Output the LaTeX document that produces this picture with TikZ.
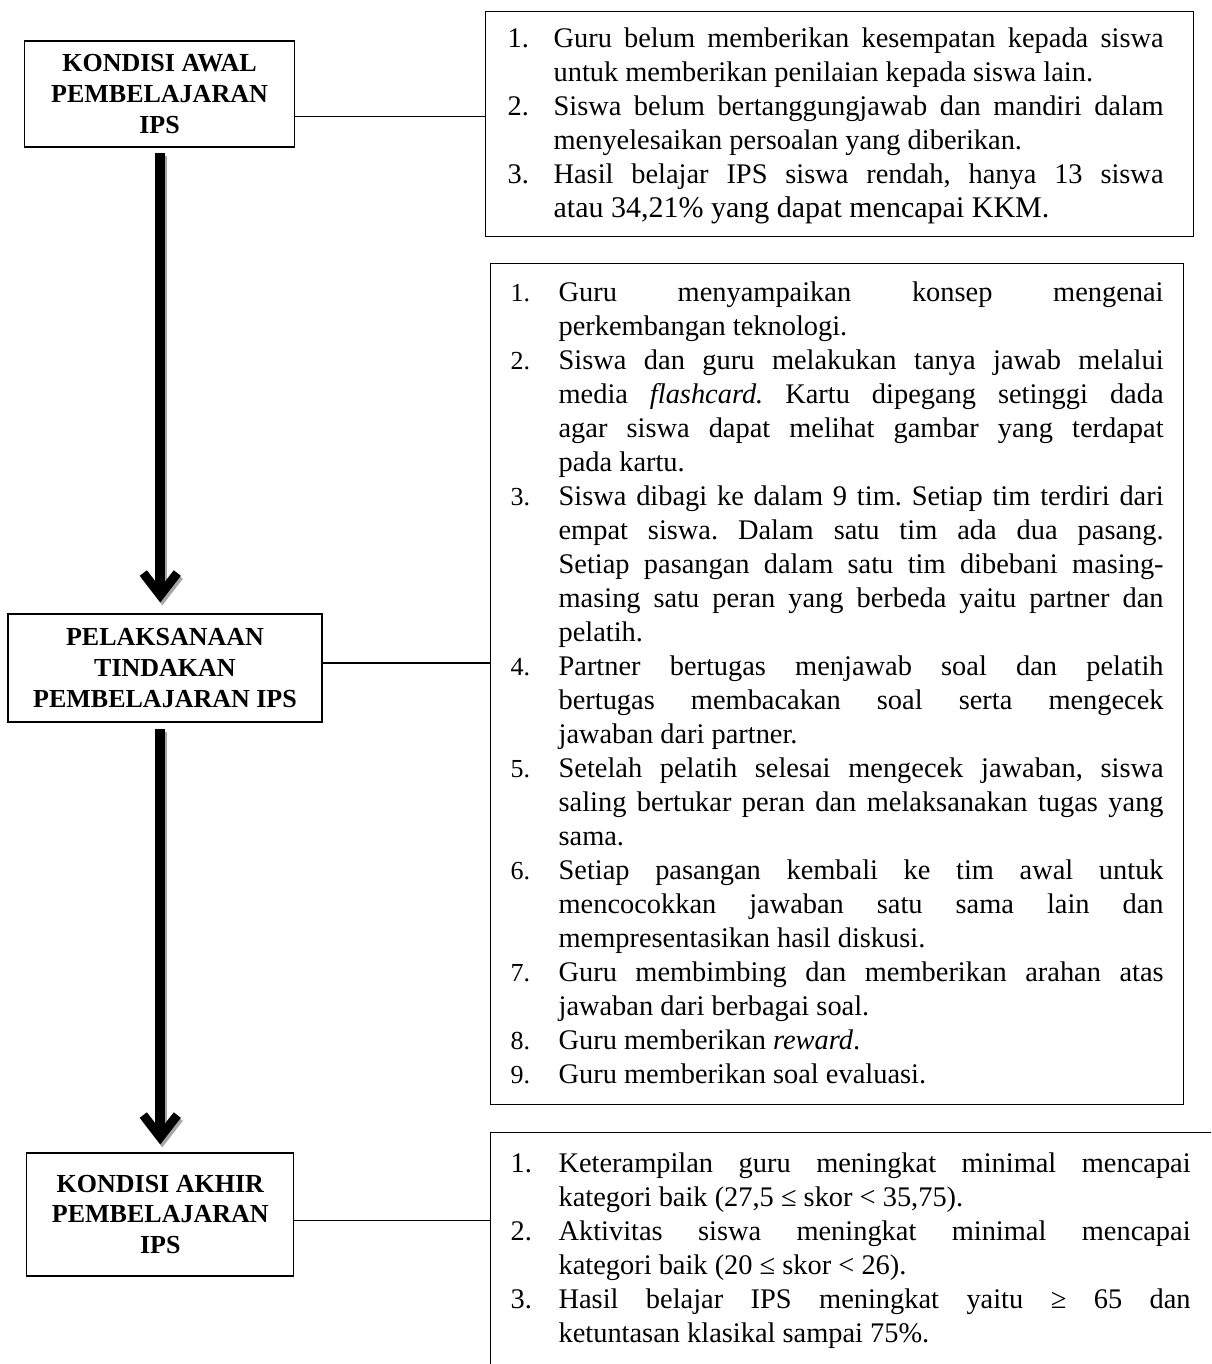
\documentclass[tikz,border=0pt]{standalone}
\usepackage{fontspec}
\setmainfont{Liberation Serif}
\usetikzlibrary{positioning, arrows.meta, calc}

% list for the numbered points
\newcommand{\nomorfont}{}
\newenvironment{daftar}[2]{%
  \begin{list}{}{\setlength{\leftmargin}{#1}\setlength{\rightmargin}{#2}%
    \setlength{\labelwidth}{#1}\setlength{\labelsep}{0pt}%
    \setlength{\itemsep}{0pt}\setlength{\parsep}{0pt}%
    \setlength{\topsep}{0pt}\setlength{\partopsep}{0pt}%
    \renewcommand{\makelabel}[1]{{\nomorfont ##1}\hfil}}%
  \frenchspacing\pretolerance=-1 \tolerance=10000 \hyphenpenalty=10000}
  {\end{list}}
% empty space kept at the bottom of a box
\newcommand{\sisabawah}[1]{\par\vspace*{#1}\hrule height 0pt}

\tikzset{
  kotak/.style={draw, line width=0.6pt, align=center, inner sep=0pt,
    font=\fontsize{13}{15.3}\selectfont\bfseries},
  isi/.style={draw, line width=0.6pt, anchor=north west, inner ysep=0pt, align=justify},
  hubung/.style={line width=0.6pt},
  panah/.style={line width=5pt,
    -{Straight Barb[length=11pt, width=17pt, line width=4.5pt]}},
  bayang/.style={panah, black!35},
}

\begin{document}
\begin{tikzpicture}[x=0.5pt, y=-0.5pt]
    \useasboundingbox (0,0) rectangle (1211,1364);
    \clip (0,0) rectangle (1211,1364);

    % left column
    \node[kotak, minimum width=135pt, minimum height=53pt] (kondisiawal) at (159.5,94)
      {KONDISI AWAL\\PEMBELAJARAN\\IPS};
    \node[kotak, minimum width=157pt, minimum height=54pt] (pelaksanaan) at (165,668)
      {PELAKSANAAN\\TINDAKAN\\PEMBELAJARAN IPS};
    \node[kotak, minimum width=133.5pt, minimum height=61.5pt] (kondisiakhir) at (160.3,1214.5)
      {KONDISI AKHIR\\PEMBELAJARAN\\IPS};

    % right column
    \node[isi, inner xsep=11pt, text width=332pt, minimum height=112.7pt,
      font=\fontsize{14.2}{17}\selectfont] (awalisi) at (485,10.7) {%
      \begin{daftar}{23pt}{4pt}
      \item[1.] Guru belum memberikan kesempatan kepada siswa \linebreak untuk memberikan penilaian kepada siswa lain.
      \item[2.] Siswa belum bertanggungjawab dan mandiri dalam \linebreak menyelesaikan persoalan yang diberikan.
      \item[3.] Hasil belajar IPS siswa rendah, hanya 13 siswa \linebreak {\fontsize{15}{17}\selectfont atau 34,21\% yang dapat mencapai KKM.}
      \end{daftar}\sisabawah{5pt}};

    \node[isi, inner xsep=10pt, text width=326.5pt, minimum height=420.6pt,
      font=\fontsize{14.2}{17}\selectfont] (pelaksanaanisi) at (490,262.7) {%
      \renewcommand{\nomorfont}{\fontsize{13}{17}\selectfont}%
      \begin{daftar}{24pt}{0pt}
      \item[1.] Guru menyampaikan konsep mengenai \linebreak perkembangan teknologi.
      \item[2.] Siswa dan guru melakukan tanya jawab melalui \linebreak media \textit{flashcard.} Kartu dipegang setinggi dada \linebreak agar siswa dapat melihat gambar yang terdapat \linebreak pada kartu.
      \item[3.] Siswa dibagi ke dalam 9 tim. Setiap tim terdiri dari \linebreak empat siswa. Dalam satu tim ada dua pasang. \linebreak Setiap pasangan dalam satu tim dibebani masing-\linebreak masing satu peran yang berbeda yaitu partner dan \linebreak pelatih.
      \item[4.] Partner bertugas menjawab soal dan pelatih \linebreak bertugas membacakan soal serta mengecek \linebreak jawaban dari partner.
      \item[5.] Setelah pelatih selesai mengecek jawaban, siswa \linebreak saling bertukar peran dan melaksanakan tugas yang \linebreak sama.
      \item[6.] Setiap pasangan kembali ke tim awal untuk \linebreak mencocokkan jawaban satu sama lain dan \linebreak mempresentasikan hasil diskusi.
      \item[7.] Guru membimbing dan memberikan arahan atas \linebreak jawaban dari berbagai soal.
      \item[8.] Guru memberikan \textit{reward}.
      \item[9.] Guru memberikan soal evaluasi.
      \end{daftar}\sisabawah{8pt}};

    \node[isi, inner xsep=10pt, inner ysep=2.9pt, text width=380pt,
      font=\fontsize{14.2}{17}\selectfont] (akhirisi) at (490,1131.7) {%
      \begin{daftar}{24pt}{40pt}
      \item[1.] Keterampilan guru meningkat minimal mencapai \linebreak kategori baik (27,5 ≤ skor < 35,75).
      \item[2.] Aktivitas siswa meningkat minimal mencapai \linebreak kategori baik (20 ≤ skor < 26).
      \item[3.] Hasil belajar IPS meningkat yaitu ≥ 65 dan \linebreak ketuntasan klasikal sampai 75\%.
      \end{daftar}\sisabawah{60pt}};

    % connectors
    \draw[hubung] ([yshift=-11.3pt]kondisiawal.east) -- ([yshift=-11.3pt]kondisiawal.east -| awalisi.west);
    \draw[hubung] ([yshift=2.5pt]pelaksanaan.east) -- ([yshift=2.5pt]pelaksanaan.east -| pelaksanaanisi.west);
    \draw[hubung] ([yshift=-2.8pt]kondisiakhir.east) -- ([yshift=-2.8pt]kondisiakhir.east -| akhirisi.west);

    % thick arrows with shadow
    \draw[bayang, shorten <=2.5pt, shorten >=5.5pt] ([xshift=1pt, yshift=-1.5pt]kondisiawal.south -| kondisiakhir.north) -- ([xshift=1pt, yshift=-1.5pt]kondisiakhir.north |- pelaksanaan.north);
    \draw[panah, shorten <=2.5pt, shorten >=5.5pt] (kondisiawal.south -| kondisiakhir.north) -- (kondisiakhir.north |- pelaksanaan.north);
    \draw[bayang, shorten <=3pt, shorten >=4pt] ([xshift=1pt, yshift=-1.5pt]kondisiakhir.north |- pelaksanaan.south) -- ([xshift=1pt, yshift=-1.5pt]kondisiakhir.north);
    \draw[panah, shorten <=3pt, shorten >=4pt] (kondisiakhir.north |- pelaksanaan.south) -- (kondisiakhir.north);
\end{tikzpicture}
\end{document}
